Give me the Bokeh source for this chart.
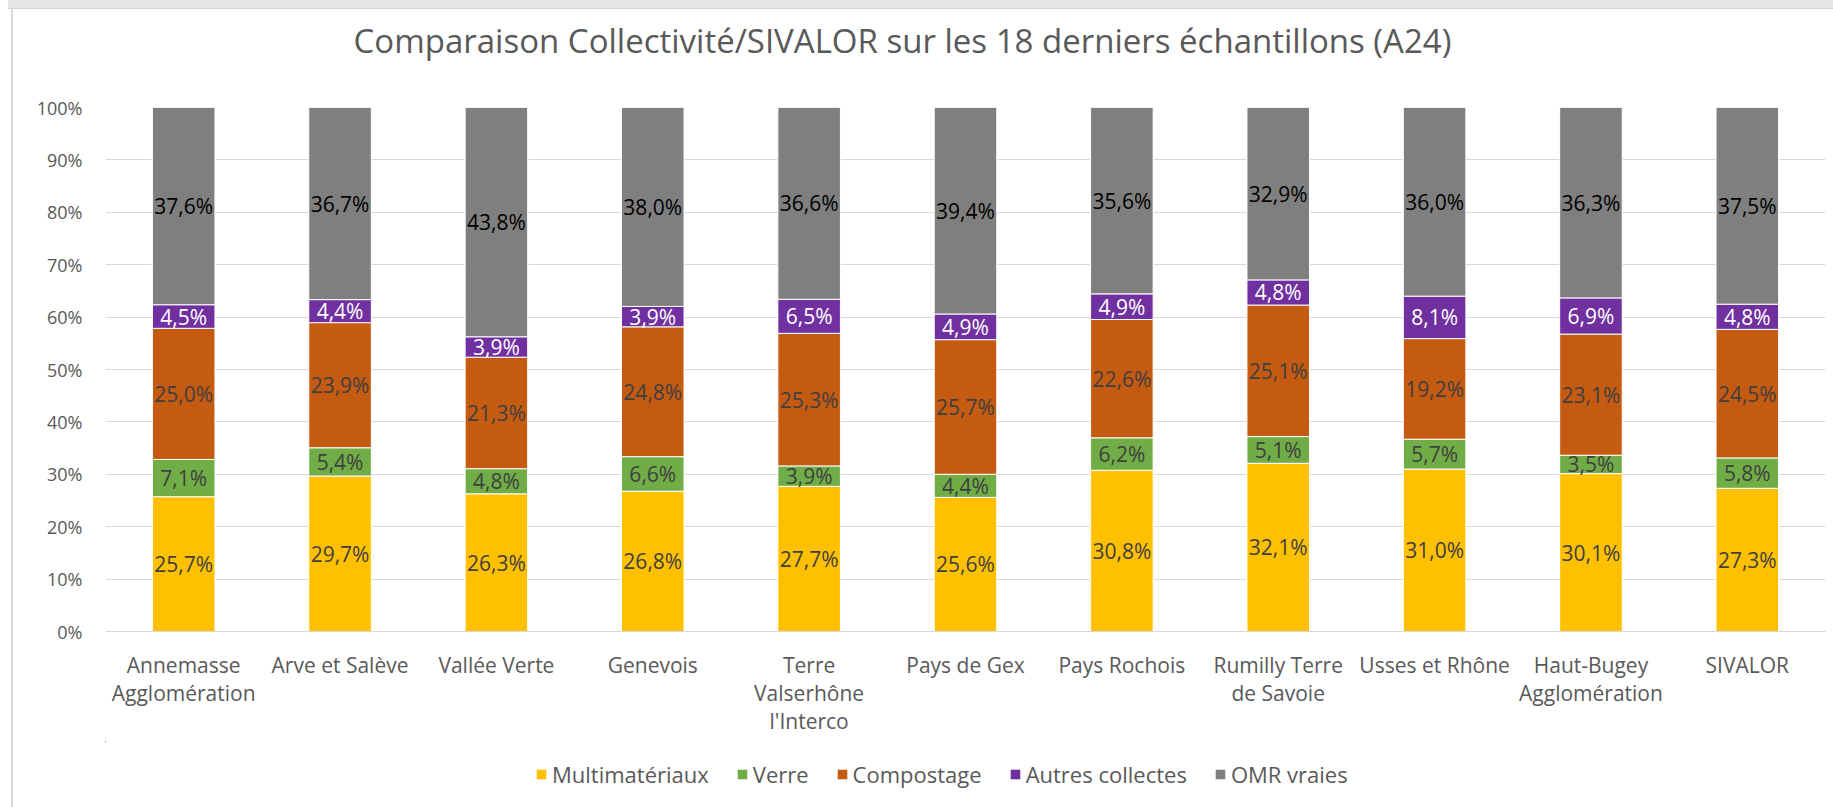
from bokeh.plotting import figure
from bokeh.models import (ColumnDataSource, NumeralTickFormatter, FixedTicker, Label,
                          Legend, LegendItem, Div, Range1d)
from bokeh.layouts import column, row
from bokeh.embed import file_html
from bokeh.resources import INLINE
from bokeh.core.properties import value

# ---------------- data ----------------
categories = ["Annemasse Agglomération", "Arve et Salève", "Vallée Verte", "Genevois",
              "Terre Valserhône l'Interco", "Pays de Gex", "Pays Rochois",
              "Rumilly Terre de Savoie", "Usses et Rhône", "Haut-Bugey Agglomération", "SIVALOR"]
tick_labels = ["Annemasse\nAgglomération", "Arve et Salève", "Vallée Verte", "Genevois",
               "Terre\nValserhône\nl'Interco", "Pays de Gex", "Pays Rochois",
               "Rumilly Terre\nde Savoie", "Usses et Rhône", "Haut-Bugey\nAgglomération", "SIVALOR"]
series = ["Multimatériaux", "Verre", "Compostage", "Autres collectes", "OMR vraies"]
multimateriaux = [25.7, 29.7, 26.3, 26.8, 27.7, 25.6, 30.8, 32.1, 31.0, 30.1, 27.3]
verre = [7.1, 5.4, 4.8, 6.6, 3.9, 4.4, 6.2, 5.1, 5.7, 3.5, 5.8]
compostage = [25.0, 23.9, 21.3, 24.8, 25.3, 25.7, 22.6, 25.1, 19.2, 23.1, 24.5]
autres_collectes = [4.5, 4.4, 3.9, 3.9, 6.5, 4.9, 4.9, 4.8, 8.1, 6.9, 4.8]
omr_vraies = [37.6, 36.7, 43.8, 38.0, 36.6, 39.4, 35.6, 32.9, 36.0, 36.3, 37.5]
y_ticks = [0, 0.1, 0.2, 0.3, 0.4, 0.5, 0.6, 0.7, 0.8, 0.9, 1.0]
title_text = "Comparaison Collectivité/SIVALOR sur les 18 derniers échantillons (A24)"

colors = ["#FFC000", "#70AD47", "#C55A11", "#7030A0", "#7F7F7F"]
label_colors = ["#404040", "#404040", "#404040", "#FFFFFF", "#000000"]
FONT = "Open Sans"
TXT = "#595959"

values = [multimateriaux, verre, compostage, autres_collectes, omr_vraies]
keys = ["s0", "s1", "s2", "s3", "s4"]
n = len(categories)
xs = list(range(n))
totals = [sum(v[i] for v in values) for i in range(n)]

data = {"x": xs}
for k, v in zip(keys, values):
    data[k] = [v[i] / totals[i] for i in range(n)]
src = ColumnDataSource(data)

W = 1820
FRAME_W = 1720

# ---------------- title strip (frame aligned with the chart frame) ----------------
t = figure(width=W, height=86, x_range=Range1d(0, FRAME_W), y_range=Range1d(0, 86),
           x_axis_location=None, y_axis_location=None,
           min_border_left=92, min_border_right=8, min_border_top=0, min_border_bottom=0,
           output_backend="svg", toolbar_location=None)
t.outline_line_color = None
t.grid.visible = False
t.add_layout(Label(x=797, y=55, text=title_text, text_align="center", text_baseline="middle",
                   text_font=FONT, text_font_size="33px", text_color=TXT))

# ---------------- main chart ----------------
p = figure(width=W, height=646, x_range=Range1d(-0.5, n - 0.5), y_range=Range1d(0, 1),
           output_backend="svg", toolbar_location=None,
           min_border_left=92, min_border_right=8, min_border_top=12, min_border_bottom=110)
p.outline_line_color = None
p.background_fill_color = "white"
p.border_fill_color = "white"

p.vbar_stack(keys, x="x", width=0.4, color=colors, source=src,
             line_color="white", line_width=1)

# data labels
for j, k in enumerate(keys):
    ys, txt = [], []
    for i in range(n):
        below = sum(data[kk][i] for kk in keys[:j])
        ys.append(below + data[k][i] / 2)
        txt.append(f"{values[j][i]:.1f}%".replace(".", ","))
    lsrc = ColumnDataSource({"x": xs, "y": ys, "t": txt})
    p.text(x="x", y="y", text="t", source=lsrc, text_align="center", text_baseline="middle",
           text_font=value(FONT), text_font_size="21px", text_color=label_colors[j])

p.xgrid.grid_line_color = None
p.ygrid.grid_line_color = "#D9D9D9"
p.ygrid.grid_line_width = 1
p.ygrid.ticker = FixedTicker(ticks=y_ticks)

p.yaxis.ticker = FixedTicker(ticks=y_ticks)
p.yaxis.formatter = NumeralTickFormatter(format="0%")
p.yaxis.axis_line_color = None
p.yaxis.major_tick_line_color = None
p.yaxis.minor_tick_line_color = None
p.yaxis.major_label_text_font = FONT
p.yaxis.major_label_text_font_size = "18px"
p.yaxis.major_label_text_color = TXT
p.yaxis.major_label_standoff = 17

p.xaxis.ticker = FixedTicker(ticks=xs)
p.xaxis.major_label_overrides = {i: lab for i, lab in enumerate(tick_labels)}
p.xaxis.axis_line_color = "#D9D9D9"
p.xaxis.major_tick_line_color = None
p.xaxis.minor_tick_line_color = None
p.xaxis.major_label_text_font = FONT
p.xaxis.major_label_text_font_size = "21px"
p.xaxis.major_label_text_color = TXT
p.xaxis.major_label_text_line_height = 1.0
p.xaxis.major_label_standoff = 13

# ---------------- legend strip ----------------
# same stacked series, viewed through a window that contains none of the bars: only the legend shows
lg = figure(width=W, height=66, x_range=Range1d(100, 111), y_range=Range1d(-30, -29),
            x_axis_location=None, y_axis_location=None,
            min_border_left=92, min_border_right=8, min_border_top=0, min_border_bottom=0,
            output_backend="svg", toolbar_location=None)
lg.outline_line_color = None
lg.grid.visible = False
lrs = lg.vbar_stack(keys, x="x", width=0.4, color=colors, source=src, line_color=None)
items = [LegendItem(label=s, renderers=[r]) for s, r in zip(series, lrs)]
legend = Legend(items=items, orientation="horizontal", location=(430, 18),
                glyph_width=12, glyph_height=12, label_standoff=5, spacing=27,
                padding=0, margin=0, border_line_color=None, background_fill_alpha=0,
                label_text_font=FONT, label_text_font_size="22px", label_text_color=TXT)
lg.add_layout(legend)

# ---------------- Excel chart border decorations ----------------
top_band = row(Div(width=8, height=9, margin=0),
               Div(width=1825, height=9, margin=0,
                   styles={"background-color": "#E6E6E6", "border-bottom": "1px solid #D4D4D4"}),
               spacing=0)
body = row(Div(width=11, height=798, margin=0),
           Div(width=2, height=798, margin=0, styles={"background-color": "#D9D9D9"}),
           column(t, p, lg, spacing=0), spacing=0)
layout = column(top_band, body, spacing=0)

open("out.html", "w").write(file_html(layout, INLINE))
